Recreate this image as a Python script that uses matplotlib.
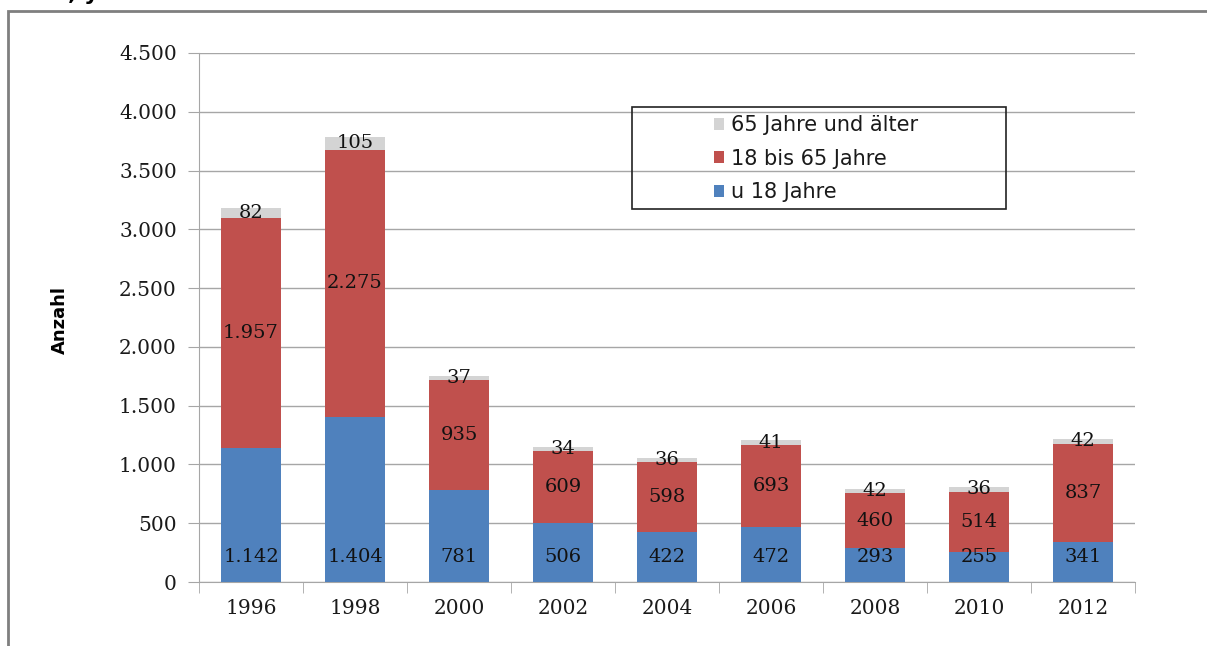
import matplotlib.pyplot as plt
import matplotlib.patches as mpatches
from matplotlib.ticker import FuncFormatter
import numpy as np

# Data
years = ['1996', '1998', '2000', '2002', '2004', '2006', '2008', '2010', '2012']
under18 = [1142, 1404, 781, 506, 422, 472, 293, 255, 341]
age18to65 = [1957, 2275, 935, 609, 598, 693, 460, 514, 837]
over65 = [82, 105, 37, 34, 36, 41, 42, 36, 42]

series_labels = ['u 18 Jahre', '18 bis 65 Jahre', '65 Jahre und älter']

BLUE = '#4F81BD'
RED = '#C0504D'
GREY = '#D4D4D4'
GRID = '#A6A6A6'
NUMFONT = 'DejaVu Serif'

W, H = 1207, 646
fig = plt.figure(figsize=(W / 100, H / 100), dpi=100)
ax = fig.add_axes([199 / W, 1 - 582 / H, (1135 - 199) / W, (582 - 53) / H])

x = np.arange(len(years))
bw = 0.58
u = np.array(under18)
m = np.array(age18to65)
o = np.array(over65)

b1 = ax.bar(x, u, bw, color=BLUE, zorder=3)
b2 = ax.bar(x, m, bw, bottom=u, color=RED, zorder=3)
b3 = ax.bar(x, o, bw, bottom=u + m, color=GREY, zorder=3)


def fmt(v):
    return '{:,}'.format(int(v)).replace(',', '.')


# Value labels: bottom row sits near the axis, the others are centred
for i in range(len(years)):
    ax.text(x[i], 210, fmt(u[i]), ha='center', va='center',
            fontsize=14, family=NUMFONT, color='#111111', zorder=4)
    ax.text(x[i], u[i] + m[i] / 2, fmt(m[i]), ha='center', va='center',
            fontsize=14, family=NUMFONT, color='#111111', zorder=4)
    ax.text(x[i], u[i] + m[i] + o[i] / 2, fmt(o[i]), ha='center', va='center',
            fontsize=14, family=NUMFONT, color='#111111', zorder=4)

ax.set_xlim(-0.5, len(years) - 0.5)
ax.set_ylim(0, 4500)
ax.set_yticks(np.arange(0, 4501, 500))
ax.yaxis.set_major_formatter(FuncFormatter(lambda v, p: fmt(v)))
ax.set_xticks(x)
ax.set_xticklabels(years)
ax.set_xticks(np.arange(-0.5, len(years), 1), minor=True)
ax.tick_params(axis='x', which='major', length=0, pad=12)
ax.tick_params(axis='x', which='minor', length=8, color=GRID, direction='out')
ax.tick_params(axis='y', length=8, color=GRID, direction='out', pad=8)
for lab in ax.get_xticklabels() + ax.get_yticklabels():
    lab.set_family(NUMFONT)
    lab.set_fontsize(14.5)
    lab.set_color('#1a1a1a')

ax.yaxis.grid(True, color=GRID, linewidth=1, zorder=0)
ax.set_axisbelow(True)
for s in ['top', 'right']:
    ax.spines[s].set_visible(False)
ax.spines['left'].set_color(GRID)
ax.spines['bottom'].set_color(GRID)

fig.text(60 / W, 1 - 320 / H, 'Anzahl', rotation=90, ha='center', va='center',
         fontsize=13, fontweight='bold')

# Legend box drawn by hand, legend entries inside it
fig.patches.append(mpatches.Rectangle((632 / W, 1 - 209 / H), (1006 - 632) / W, (209 - 107) / H,
                                      transform=fig.transFigure, fill=False,
                                      edgecolor='#222222', linewidth=1.2))
handles = [b3, b2, b1]
leg = fig.legend(handles, series_labels[::-1], loc='upper left',
                 bbox_to_anchor=(714 / W, 1 - 115 / H), frameon=False,
                 fontsize=15, handlelength=0.5, handleheight=0.5,
                 handletextpad=0.3, labelspacing=0.65, borderpad=0, borderaxespad=0)
for t in leg.get_texts():
    t.set_color('#1a1a1a')

# Outer frame of the chart
fig.patches.append(mpatches.Rectangle((8 / W, -0.1), 1.2, (H - 11) / H + 0.1,
                                      transform=fig.transFigure, fill=False,
                                      edgecolor='#7f7f7f', linewidth=2))

# Cut-off title fragment above the frame
fig.text(68 / W, 1.0, ', y', fontweight='bold', fontsize=16, va='baseline')

fig.savefig('out.png', dpi=100)
